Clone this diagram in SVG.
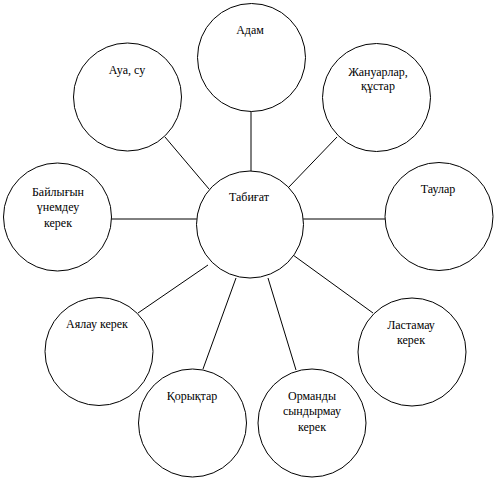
<svg xmlns="http://www.w3.org/2000/svg" width="500" height="483" viewBox="0 0 500 483">
<style>
circle{fill:#fff;stroke:#000;stroke-width:1}
line{stroke:#000;stroke-width:1}
text{font-family:'Liberation Serif','DejaVu Serif',serif;font-size:12px;fill:#000;text-anchor:middle}
</style>
<rect width="500" height="483" fill="#fff"/>
<g id="connectors">
<line x1="251" y1="110" x2="251" y2="171"/>
<line x1="165" y1="137" x2="209" y2="189"/>
<line x1="337" y1="137" x2="288" y2="188"/>
<line x1="111" y1="219" x2="197" y2="219"/>
<line x1="300" y1="219" x2="385" y2="219"/>
<line x1="138" y1="313" x2="208" y2="265"/>
<line x1="203" y1="369" x2="236" y2="278"/>
<line x1="268" y1="278" x2="296" y2="370"/>
<line x1="293" y1="255" x2="373" y2="313"/>
</g>
<g id="adam"><circle cx="251.5" cy="57.5" r="54"/><text x="250" y="34">Адам</text></g>
<g id="aua"><circle cx="127.5" cy="97" r="54"/><text x="127" y="74">Ауа, су</text></g>
<g id="januar"><circle cx="376.5" cy="97.5" r="54"/><text x="378" y="76">Жануарлар,</text><text x="378" y="90">құстар</text></g>
<g id="bailyk"><circle cx="57.5" cy="217" r="54"/><text x="58" y="196">Байлығын</text><text x="58" y="211">үнемдеу</text><text x="58" y="227">керек</text></g>
<g id="tabigat"><circle cx="250" cy="224.5" r="53.5"/><text x="249" y="201">Табиғат</text></g>
<g id="taular"><circle cx="439" cy="216.5" r="54"/><text x="438" y="193">Таулар</text></g>
<g id="ayalau"><circle cx="99" cy="351.5" r="54"/><text x="97" y="328">Аялау керек</text></g>
<g id="lastamau"><circle cx="412" cy="352" r="54"/><text x="411" y="329">Ластамау</text><text x="411" y="344">керек</text></g>
<g id="koryk"><circle cx="192.5" cy="423" r="54"/><text x="192" y="400">Қорықтар</text></g>
<g id="ormandy"><circle cx="312" cy="423" r="54"/><text x="312" y="400">Орманды</text><text x="312" y="415">сындырмау</text><text x="312" y="431">керек</text></g>
</svg>
